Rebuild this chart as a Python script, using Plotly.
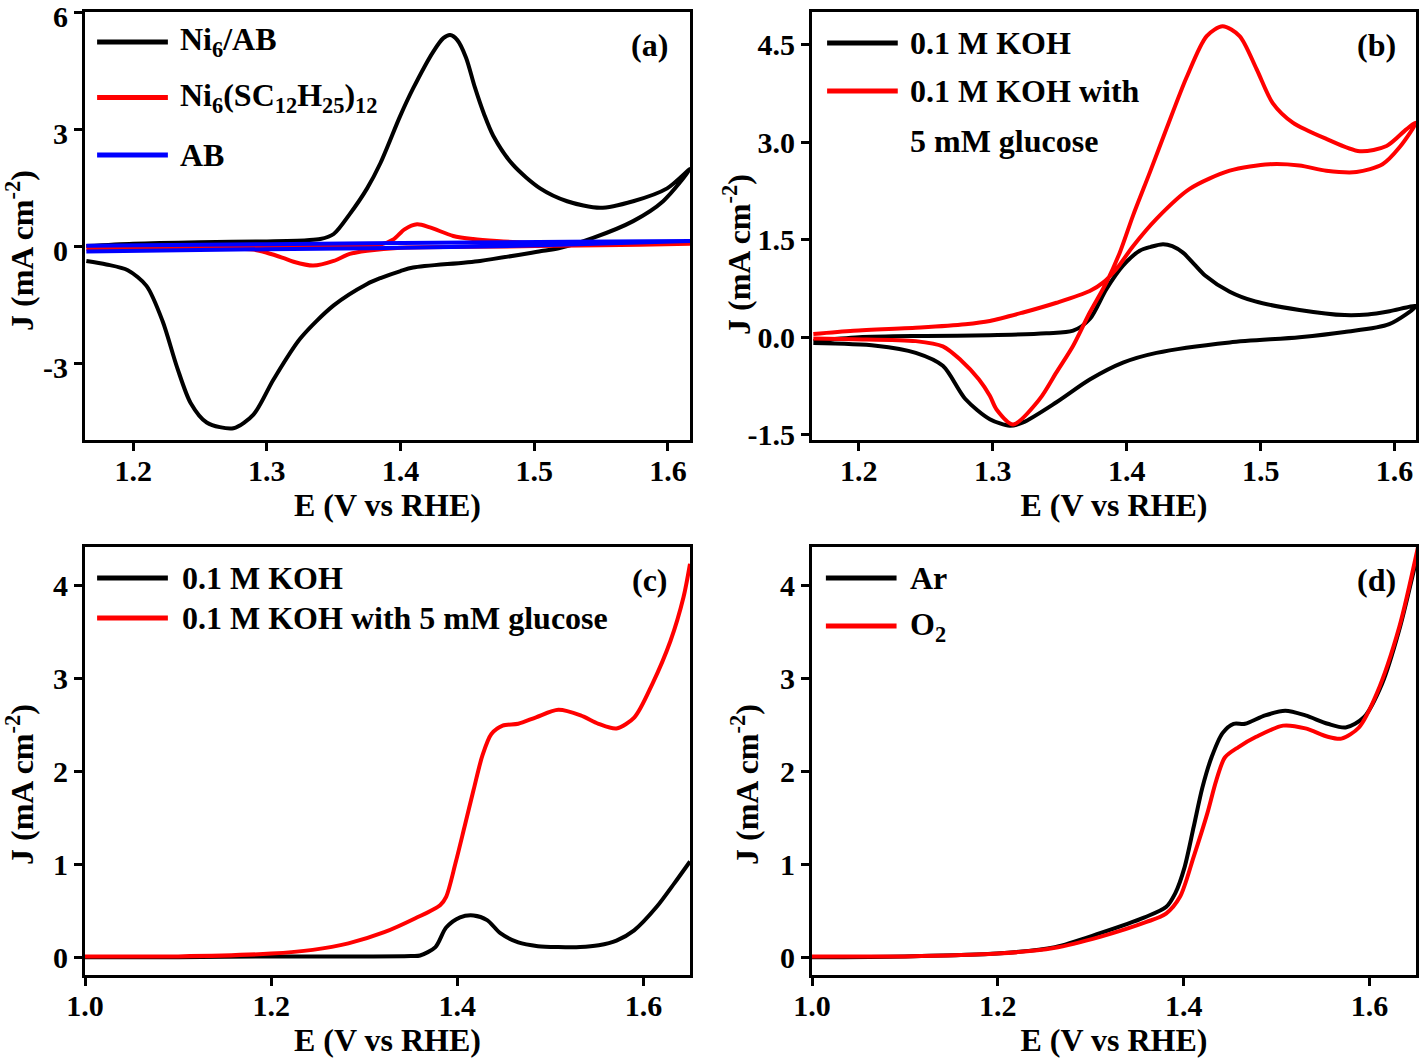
import plotly.graph_objects as go
from plotly.subplots import make_subplots

# ---------------- data ----------------
# (a) CVs: forward branch then reverse branch (closed loop)
a_ni6ab_E = [1.165, 1.20, 1.25, 1.30, 1.33, 1.34, 1.35, 1.362, 1.375, 1.385, 1.3997, 1.4094, 1.4244,
             1.432, 1.4371, 1.4425, 1.449, 1.4555, 1.4625, 1.4693, 1.4842, 1.5044, 1.5246, 1.5493, 1.574,
             1.5994, 1.6166,
             1.5964, 1.574, 1.544, 1.519, 1.5067, 1.4595, 1.4094, 1.40, 1.385, 1.375, 1.35, 1.325, 1.305,
             1.29, 1.275, 1.255, 1.243, 1.233, 1.222, 1.21, 1.196, 1.18, 1.165]
a_ni6ab_J = [0.02, 0.08, 0.12, 0.14, 0.17, 0.2, 0.33, 0.84, 1.5, 2.15, 3.35, 4.06, 5.0,
             5.35, 5.43, 5.3, 4.85, 4.1, 3.4, 2.85, 2.1, 1.5, 1.17, 1.0, 1.17,
             1.5, 2.0,
             1.17, 0.66, 0.23, -0.03, -0.1, -0.36, -0.53, -0.62, -0.8, -0.95, -1.5, -2.35, -3.4,
             -4.3, -4.65, -4.5, -4.0, -3.1, -1.9, -1.0, -0.6, -0.45, -0.36]

a_ni6sc_E = [1.165, 1.25, 1.35, 1.37, 1.385, 1.395, 1.403, 1.4124, 1.422, 1.4394, 1.4543, 1.472, 1.5, 1.55, 1.6166,
             1.55, 1.45, 1.40, 1.375, 1.362, 1.35, 1.3346, 1.32, 1.312, 1.30, 1.29, 1.27, 1.2, 1.165]
a_ni6sc_J = [0.0, 0.0, 0.01, 0.02, 0.06, 0.2, 0.45, 0.58, 0.5, 0.28, 0.2, 0.15, 0.1, 0.08, 0.08,
             0.04, 0.0, -0.02, -0.1, -0.18, -0.36, -0.48, -0.38, -0.28, -0.15, -0.07, -0.04, -0.04, -0.05]

a_ab_E = [1.165, 1.30, 1.45, 1.6166, 1.45, 1.30, 1.165]
a_ab_J = [0.03, 0.07, 0.11, 0.15, 0.0, -0.06, -0.12]

# (b) CVs
b_koh_E = [1.166, 1.2, 1.25, 1.2978, 1.34, 1.36, 1.3724, 1.3848, 1.3972, 1.4097, 1.418, 1.4271, 1.434,
           1.442, 1.4505, 1.4585, 1.4769, 1.496, 1.529, 1.5627, 1.58, 1.5963, 1.616,
           1.596, 1.5627, 1.529, 1.4769, 1.4222, 1.3972, 1.3724, 1.3475, 1.3226, 1.3127,
           1.2978, 1.2795, 1.2627, 1.2425, 1.2127, 1.166]
b_koh_J = [-0.06, 0.0, 0.02, 0.03, 0.06, 0.1, 0.28, 0.74, 1.1, 1.33, 1.39, 1.43, 1.40,
           1.3, 1.12, 0.95, 0.7, 0.55, 0.42, 0.34, 0.35, 0.4, 0.48,
           0.2, 0.08, 0.0, -0.08, -0.24, -0.39, -0.65, -1.0, -1.31, -1.36,
           -1.26, -0.95, -0.44, -0.24, -0.13, -0.09]

b_glu_E = [1.166, 1.196, 1.246, 1.2795, 1.2978, 1.3226, 1.3476, 1.3724, 1.3823, 1.3923, 1.4047, 1.4222,
           1.447, 1.4769, 1.5067, 1.529, 1.549, 1.5716, 1.591, 1.6037, 1.616,
           1.609, 1.594, 1.574, 1.549, 1.524, 1.509, 1.497, 1.4843, 1.4716, 1.4597, 1.4448, 1.4296,
           1.4172, 1.4047, 1.3948, 1.3848, 1.3724, 1.36, 1.3475, 1.335, 1.3152, 1.3028, 1.2978,
           1.2897, 1.276, 1.2627, 1.2425, 1.196, 1.166]
b_glu_J = [0.05, 0.1, 0.15, 0.2, 0.25, 0.38, 0.53, 0.71, 0.84, 1.05, 1.4, 1.82,
           2.28, 2.56, 2.66, 2.64, 2.56, 2.54, 2.66, 2.92, 3.3,
           3.2, 2.94, 2.86, 3.05, 3.3, 3.6, 4.12, 4.63, 4.78, 4.63, 4.0, 3.2,
           2.53, 1.87, 1.3, 0.84, 0.38, -0.13, -0.54, -0.95, -1.34, -1.11, -0.9,
           -0.65, -0.35, -0.14, -0.06, -0.03, -0.02]

# (c) LSVs
c_koh_E = [1.0, 1.1, 1.2, 1.3, 1.35, 1.36, 1.3765, 1.388, 1.403, 1.4175, 1.432, 1.4462, 1.4655, 1.4866,
           1.5086, 1.532, 1.552, 1.571, 1.59, 1.614, 1.6335, 1.65]
c_koh_J = [0.0, 0.0, 0.01, 0.01, 0.015, 0.02, 0.11, 0.32, 0.43, 0.45, 0.4, 0.26, 0.16, 0.12,
           0.11, 0.11, 0.13, 0.18, 0.29, 0.54, 0.8, 1.03]
c_glu_E = [1.0, 1.1, 1.2, 1.2446, 1.283, 1.3215, 1.355, 1.3815, 1.388, 1.398, 1.4077, 1.4175, 1.427,
           1.4366, 1.4487, 1.4655, 1.4846, 1.5086, 1.5325, 1.5517, 1.571, 1.5903, 1.6096, 1.629, 1.643, 1.65]
c_glu_J = [0.01, 0.01, 0.04, 0.08, 0.15, 0.27, 0.42, 0.56, 0.65, 1.01, 1.4, 1.8, 2.17,
           2.4, 2.49, 2.51, 2.58, 2.66, 2.6, 2.51, 2.46, 2.58, 2.94, 3.4, 3.87, 4.23]

# (d) LSVs
d_ar_E = [1.0, 1.1, 1.199, 1.2615, 1.31, 1.358, 1.381, 1.391, 1.401, 1.4107, 1.42, 1.43, 1.4418, 1.4537,
          1.466, 1.4876, 1.5093, 1.531, 1.555, 1.5743, 1.594, 1.6135, 1.632, 1.651]
d_ar_J = [0.0, 0.01, 0.04, 0.11, 0.26, 0.43, 0.54, 0.69, 0.97, 1.4, 1.82, 2.15, 2.41, 2.51,
          2.51, 2.6, 2.65, 2.6, 2.51, 2.47, 2.58, 2.94, 3.52, 4.3]
d_o2_E = [1.0, 1.1, 1.2, 1.26, 1.31, 1.36, 1.381, 1.396, 1.4107, 1.4255, 1.435, 1.4445, 1.459, 1.478,
          1.507, 1.531, 1.555, 1.5697, 1.5886, 1.608, 1.632, 1.653]
d_o2_J = [0.01, 0.01, 0.04, 0.1, 0.22, 0.38, 0.47, 0.65, 1.08, 1.55, 1.9, 2.15, 2.26, 2.37,
          2.49, 2.46, 2.37, 2.35, 2.47, 2.84, 3.55, 4.45]

# tick labels
ab_xticks = [1.2, 1.3, 1.4, 1.5, 1.6]
ab_xtext = ["1.2", "1.3", "1.4", "1.5", "1.6"]
cd_xticks = [1.0, 1.2, 1.4, 1.6]
cd_xtext = ["1.0", "1.2", "1.4", "1.6"]
a_yticks = [-3, 0, 3, 6]
a_ytext = ["-3", "0", "3", "6"]
b_yticks = [-1.5, 0, 1.5, 3.0, 4.5]
b_ytext = ["-1.5", "0.0", "1.5", "3.0", "4.5"]
cd_yticks = [0, 1, 2, 3, 4]
cd_ytext = ["0", "1", "2", "3", "4"]

# ---------------- figure ----------------
FONT = "Liberation Serif"
BLACK, RED, BLUE = "#000000", "#ff0000", "#0000ff"
LW = 4

fig = make_subplots(rows=2, cols=2)

def add(E, J, color, row, col):
    fig.add_trace(go.Scatter(x=E, y=J, mode="lines", showlegend=False, hoverinfo="skip",
                             line=dict(color=color, width=LW, shape="spline", smoothing=0.8)),
                  row=row, col=col)

add(a_ni6ab_E, a_ni6ab_J, BLACK, 1, 1)
add(a_ni6sc_E, a_ni6sc_J, RED, 1, 1)
add(a_ab_E, a_ab_J, BLUE, 1, 1)
add(b_koh_E, b_koh_J, BLACK, 1, 2)
add(b_glu_E, b_glu_J, RED, 1, 2)
add(c_koh_E, c_koh_J, BLACK, 2, 1)
add(c_glu_E, c_glu_J, RED, 2, 1)
add(d_ar_E, d_ar_J, BLACK, 2, 2)
add(d_o2_E, d_o2_J, RED, 2, 2)

W, H = 1419, 1059

def fx(p):
    return p / W

def fy(p):
    return 1 - p / H

xL = [fx(85), fx(690)]
xR = [fx(812), fx(1416)]
yT = [fy(440), fy(12)]
yB = [fy(975), fy(547)]

axis_common = dict(showline=True, linewidth=3, linecolor="black", mirror=True,
                   ticks="outside", ticklen=8, tickwidth=3, tickcolor="black",
                   showgrid=False, zeroline=False, automargin=False, ticklabeloverflow="allow",
                   tickfont=dict(family=FONT, size=30, color="black", weight="bold"))
title_font = dict(family=FONT, size=32, color="black", weight="bold")
xtitle = dict(text="E (V vs RHE)", font=title_font, standoff=6)

fig.update_layout(
    xaxis=dict(domain=xL, range=[1.164, 1.6165], tickvals=ab_xticks, ticktext=ab_xtext, title=xtitle,
               ticklabelstandoff=-6, **axis_common),
    yaxis=dict(domain=yT, range=[-4.95, 6.02], tickvals=a_yticks, ticktext=a_ytext,
               ticklabelshift=4, **axis_common),
    xaxis2=dict(domain=xR, range=[1.165, 1.616], tickvals=ab_xticks, ticktext=ab_xtext, title=xtitle,
                ticklabelstandoff=-6, **axis_common),
    yaxis2=dict(domain=yT, range=[-1.58, 5.0], tickvals=b_yticks, ticktext=b_ytext, **axis_common),
    xaxis3=dict(domain=xL, range=[1.0, 1.65], tickvals=cd_xticks, ticktext=cd_xtext, title=xtitle,
                ticklabelstandoff=-6, **axis_common),
    yaxis3=dict(domain=yB, range=[-0.19, 4.41], tickvals=cd_yticks, ticktext=cd_ytext, **axis_common),
    xaxis4=dict(domain=xR, range=[1.0, 1.65], tickvals=cd_xticks, ticktext=cd_xtext, title=xtitle,
                ticklabelstandoff=-6, **axis_common),
    yaxis4=dict(domain=yB, range=[-0.19, 4.41], tickvals=cd_yticks, ticktext=cd_ytext, **axis_common),
    width=W, height=H, margin=dict(l=0, r=0, t=0, b=0, autoexpand=False),
    paper_bgcolor="white", plot_bgcolor="white",
    font=dict(family=FONT, size=30, color="black", weight="bold"),
)

# y-axis titles as rotated annotations
for xp, yp in [(20, 251), (737, 255), (20, 785), (745, 785)]:
    fig.add_annotation(xref="paper", yref="paper", x=fx(xp), y=fy(yp), text="J (mA cm<sup>-2</sup>)",
                       textangle=-90, showarrow=False, xanchor="center", yanchor="middle", font=title_font)

# manual legends and panel labels
legend_font = dict(family=FONT, size=32, color="black", weight="bold")

def legend(axn, entries, x0=0.02, x1=0.137, xt=0.154):
    xr = f"x{axn} domain" if axn > 1 else "x domain"
    yr = f"y{axn} domain" if axn > 1 else "y domain"
    for color, y, text in entries:
        if color is not None:
            fig.add_shape(type="line", xref=xr, yref=yr, x0=x0, x1=x1, y0=y, y1=y,
                          line=dict(color=color, width=5))
        fig.add_annotation(xref=xr, yref=yr, x=xt, y=y, text=text, showarrow=False,
                           xanchor="left", yanchor="middle", font=legend_font)

def panel_label(axn, text, x=0.968, y=0.923):
    xr = f"x{axn} domain" if axn > 1 else "x domain"
    yr = f"y{axn} domain" if axn > 1 else "y domain"
    fig.add_annotation(xref=xr, yref=yr, x=x, y=y, text=text, showarrow=False,
                       xanchor="right", yanchor="middle", font=legend_font)

legend(1, [(BLACK, 0.93, "Ni<sub>6</sub>/AB"),
           (RED, 0.80, "Ni<sub>6</sub>(SC<sub>12</sub>H<sub>25</sub>)<sub>12</sub>"),
           (BLUE, 0.666, "AB")], x0=0.02, x1=0.137, xt=0.154)
legend(2, [(BLACK, 0.9276, "0.1 M KOH"),
           (RED, 0.8154, "0.1 M KOH with"),
           (None, 0.6986, "5 mM glucose")], x0=0.025, x1=0.142, xt=0.159)
legend(3, [(BLACK, 0.9276, "0.1 M KOH"),
           (RED, 0.834, "0.1 M KOH with 5 mM glucose")], x0=0.02, x1=0.137, xt=0.157)
legend(4, [(BLACK, 0.9276, "Ar"),
           (RED, 0.8154, "O<sub>2</sub>")], x0=0.023, x1=0.14, xt=0.159)

panel_label(1, "(a)", x=0.967)
panel_label(2, "(b)", x=0.970)
panel_label(3, "(c)", x=0.967)
panel_label(4, "(d)", x=0.970)

# remove the default 8 px page margin so the figure fills the window exactly
fig.write_html("out.html", config={"displayModeBar": False},
               post_script="document.body.style.margin='0';document.body.style.overflow='hidden';")
